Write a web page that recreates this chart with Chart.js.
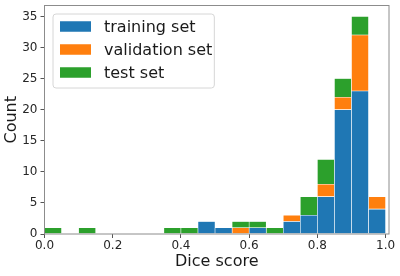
<!DOCTYPE html>
<html>
<head>
<meta charset="utf-8">
<script src="https://cdn.jsdelivr.net/npm/chart.js@4"></script>
<style>
  html, body { margin: 0; padding: 0; background: #fff; }
  #wrap { width: 400px; height: 276px; }
</style>
</head>
<body>
<div id="wrap"><canvas id="chartDice"></canvas></div>
<script>
// centros de los bins (ancho 0.05)
const binCenters = [0.025, 0.075, 0.125, 0.175, 0.225, 0.275, 0.325, 0.375, 0.425, 0.475,
                    0.525, 0.575, 0.625, 0.675, 0.725, 0.775, 0.825, 0.875, 0.925, 0.975];
const trainingSet   = [0, 0, 0, 0, 0, 0, 0, 0, 0, 2, 1, 0, 1, 0, 2, 3, 6, 20, 23, 4];
const validationSet = [0, 0, 0, 0, 0, 0, 0, 0, 0, 0, 0, 1, 0, 0, 1, 0, 2, 2, 9, 2];
const testSet       = [1, 0, 1, 0, 0, 0, 0, 1, 1, 0, 0, 1, 1, 1, 0, 3, 4, 3, 3, 0];
const seriesLabels  = ['training set', 'validation set', 'test set'];
const xTicks = [0, 0.2, 0.4, 0.6, 0.8, 1.0];
const yTicks = [0, 5, 10, 15, 20, 25, 30, 35];

const colores = ['#1f77b4', '#ff7f0e', '#2ca02c']; // azul, naranja, verde
const fuente = '"DejaVu Sans", sans-serif';

function toPoints(values) {
    return values.map((v, i) => ({ x: binCenters[i], y: v }));
}

// marco completo del area de la grafica (como matplotlib)
const marcoPlugin = {
    id: 'marco',
    afterDatasetsDraw(chart) {
        const { ctx, chartArea: a } = chart;
        ctx.save();
        ctx.strokeStyle = '#8c8c8c';
        ctx.lineWidth = 1;
        ctx.strokeRect(a.left, a.top, a.right - a.left, a.bottom - a.top);
        ctx.restore();
    }
};

// leyenda dentro del area, arriba a la izquierda
const leyendaPlugin = {
    id: 'leyendaInterna',
    afterDraw(chart) {
        const { ctx, chartArea: a } = chart;
        ctx.save();
        ctx.font = '16px ' + fuente;
        const anchoTexto = Math.max(...seriesLabels.map(t => ctx.measureText(t).width));
        const x0 = a.left + 8.5;
        const y0 = a.top + 8.5;
        const w = 51 + anchoTexto + 2;
        const h = 74;
        ctx.beginPath();
        ctx.roundRect(x0, y0, w, h, 3);
        ctx.fillStyle = 'rgba(255,255,255,0.8)';
        ctx.fill();
        ctx.strokeStyle = '#d6d6d6';
        ctx.lineWidth = 1;
        ctx.stroke();
        ctx.textBaseline = 'middle';
        ctx.textAlign = 'left';
        seriesLabels.forEach((t, i) => {
            const cy = y0 + 12.5 + i * 23;
            ctx.fillStyle = colores[i];
            ctx.fillRect(x0 + 7, cy - 5.25, 31, 10.5);
            ctx.fillStyle = '#1a1a1a';
            ctx.fillText(t, x0 + 51, cy + 1);
        });
        ctx.restore();
    }
};

const ctx = document.getElementById('chartDice').getContext('2d');
new Chart(ctx, {
    type: 'bar',
    data: {
        datasets: [trainingSet, validationSet, testSet].map((serie, i) => ({
            label: seriesLabels[i],
            data: toPoints(serie),
            backgroundColor: colores[i],
            borderColor: '#ffffff',
            borderWidth: 0.6,
            borderSkipped: false,
            barPercentage: 1,
            categoryPercentage: 1
        }))
    },
    options: {
        responsive: true,
        maintainAspectRatio: false,
        animation: false,
        layout: { padding: { top: 5.5, right: 11, left: 0, bottom: 0 } },
        scales: {
            x: {
                type: 'linear',
                stacked: true,
                offset: false,
                min: 0,
                max: 1.01,
                afterBuildTicks: axis => { axis.ticks = xTicks.map(v => ({ value: v })); },
                afterFit: axis => { axis.height = 42; axis.paddingLeft = 0; axis.paddingRight = 0; },
                border: { display: false },
                grid: { display: true, drawOnChartArea: false, offset: false, tickLength: 4, color: '#555' },
                ticks: {
                    autoSkip: false,
                    maxRotation: 0,
                    padding: 1,
                    color: '#262626',
                    font: { family: fuente, size: 12 },
                    callback: v => Number(v).toFixed(1)
                },
                title: {
                    display: true,
                    text: 'Dice score',
                    color: '#1a1a1a',
                    font: { family: fuente, size: 16 },
                    padding: { top: 0, bottom: 5 }
                }
            },
            y: {
                stacked: true,
                min: 0,
                max: 36.75,
                afterBuildTicks: axis => { axis.ticks = yTicks.map(v => ({ value: v })); },
                afterFit: axis => { axis.width = 44.5; axis.paddingTop = 0; axis.paddingBottom = 0; },
                border: { display: false },
                grid: { display: true, drawOnChartArea: false, tickLength: 4, color: '#555' },
                ticks: {
                    padding: 3,
                    color: '#262626',
                    font: { family: fuente, size: 12 }
                },
                title: {
                    display: true,
                    text: 'Count',
                    color: '#1a1a1a',
                    font: { family: fuente, size: 16 },
                    padding: { top: 2, bottom: 0 }
                }
            }
        },
        plugins: {
            legend: { display: false },
            tooltip: { enabled: false }
        }
    },
    plugins: [marcoPlugin, leyendaPlugin]
});
</script>
</body>
</html>
